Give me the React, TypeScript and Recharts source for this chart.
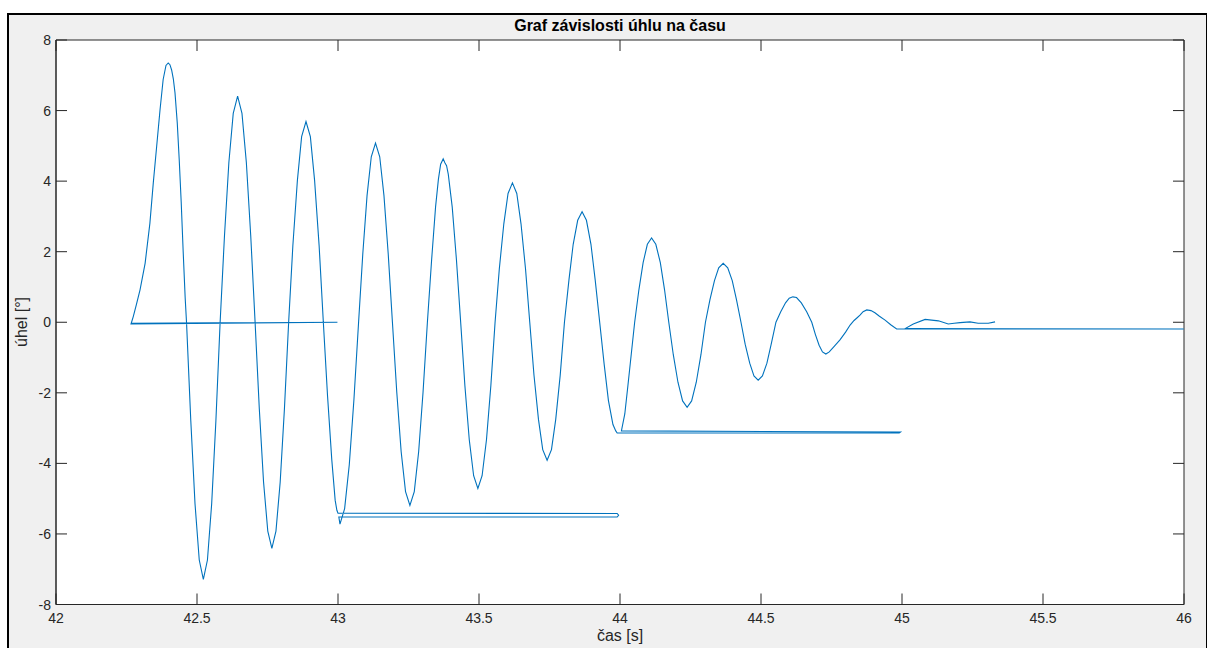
import React from "react";
import { LineChart, Line, XAxis, YAxis, CartesianGrid, ReferenceArea } from "recharts";

const title = "Graf závislosti úhlu na času";
const xLabel = "čas [s]";
const yLabel = "úhel [°]";

const xTicks = [42, 42.5, 43, 43.5, 44, 44.5, 45, 45.5, 46];
const yTicks = [-8, -6, -4, -2, 0, 2, 4, 6, 8];

// time [s] – samples in recorded order (timestamps wrap around each full second)
const time = [
  42.265, 42.998, 42.266,
  42.274, 42.285, 42.298, 42.316, 42.333, 42.345, 42.357, 42.369, 42.380, 42.390, 42.398, 42.404, 42.410, 42.416, 42.422, 42.430, 42.437, 42.444, 42.451, 42.458, 42.463,
  42.478, 42.493, 42.508, 42.5225, 42.537, 42.552, 42.567, 42.582,
  42.5975, 42.613, 42.6285, 42.644, 42.6595, 42.675, 42.6905, 42.706,
  42.721, 42.736, 42.751, 42.7655, 42.780, 42.795, 42.810, 42.825,
  42.840, 42.856, 42.871, 42.8865, 42.902, 42.917, 42.933, 42.948,
  42.963, 42.978, 42.990, 42.996, 43.0,
  43.99, 43.995, 43.99, 43.003, 43.007,
  43.0235, 43.040, 43.0565, 43.073,
  43.088, 43.103, 43.118, 43.133, 43.148, 43.163, 43.178, 43.193,
  43.2085, 43.224, 43.2395, 43.255, 43.2705, 43.286, 43.3015, 43.317,
  43.332, 43.346, 43.356, 43.364, 43.373, 43.379, 43.385, 43.391, 43.405, 43.420, 43.435,
  43.450, 43.4655, 43.481, 43.496, 43.511, 43.5265, 43.542, 43.557,
  43.572, 43.588, 43.603, 43.6185, 43.634, 43.649, 43.665, 43.680,
  43.695, 43.711, 43.726, 43.7415, 43.757, 43.772, 43.788, 43.803,
  43.819, 43.834, 43.850, 43.8655, 43.881, 43.897, 43.912, 43.928,
  43.944, 43.959, 43.975, 43.985, 43.99,
  44.99, 44.995, 44.005,
  44.017, 44.028, 44.040, 44.052,
  44.067, 44.082, 44.097, 44.112, 44.127, 44.143, 44.158, 44.173,
  44.189, 44.2055, 44.222, 44.238, 44.254, 44.2705, 44.287, 44.303,
  44.319, 44.335, 44.350, 44.366, 44.382, 44.398, 44.413, 44.429,
  44.444, 44.460, 44.475, 44.490, 44.505, 44.521, 44.536, 44.553,
  44.570, 44.587, 44.600, 44.613, 44.626, 44.643, 44.662, 44.680,
  44.693, 44.706, 44.718, 44.730, 44.742, 44.758, 44.780, 44.800, 44.816, 44.830, 44.840, 44.851, 44.862, 44.875, 44.890, 44.904, 44.920, 44.940, 44.960, 44.981,
  45.999, 45.011,
  45.040, 45.082, 45.105, 45.129, 45.164, 45.185, 45.206, 45.241, 45.270, 45.306, 45.330,
];

// angle [°]
const angle = [
  -0.03, 0.0, -0.05,
  0.16, 0.5, 0.92, 1.67, 2.81, 3.95, 4.99, 6.03, 6.88, 7.28, 7.35, 7.3, 7.15, 6.9, 6.5, 5.65, 4.6, 3.4, 2.0, 0.7, -0.03,
  -2.79, -5.15, -6.74, -7.29, -6.74, -5.15, -2.79, 0,
  2.46, 4.53, 5.92, 6.41, 5.92, 4.53, 2.46, 0,
  -2.46, -4.53, -5.92, -6.41, -5.92, -4.53, -2.46, 0,
  2.18, 4.02, 5.26, 5.69, 5.26, 4.02, 2.18, 0,
  -2.1, -3.9, -5.05, -5.33, -5.41,
  -5.42, -5.47, -5.52, -5.52, -5.72,
  -5.28, -4.04, -2.19, 0,
  1.95, 3.59, 4.69, 5.08, 4.69, 3.59, 1.95, 0,
  -1.99, -3.67, -4.8, -5.19, -4.8, -3.67, -1.99, 0,
  1.77, 3.27, 4.05, 4.48, 4.63, 4.52, 4.44, 4.2, 3.27, 1.77, 0,
  -1.8, -3.33, -4.35, -4.71, -4.35, -3.33, -1.8, 0,
  1.51, 2.79, 3.65, 3.95, 3.65, 2.79, 1.51, 0,
  -1.5, -2.76, -3.61, -3.91, -3.61, -2.76, -1.5, 0,
  1.2, 2.21, 2.89, 3.13, 2.89, 2.21, 1.2, 0,
  -1.2, -2.22, -2.9, -3.08, -3.14,
  -3.14, -3.11, -3.08,
  -2.6, -1.8, -0.9, 0,
  0.92, 1.69, 2.21, 2.39, 2.21, 1.69, 0.92, 0,
  -0.92, -1.7, -2.23, -2.41, -2.23, -1.7, -0.92, 0,
  0.64, 1.18, 1.54, 1.67, 1.54, 1.18, 0.64, 0,
  -0.63, -1.16, -1.52, -1.64, -1.52, -1.16, -0.63, 0,
  0.3, 0.55, 0.68, 0.72, 0.7, 0.55, 0.3, 0,
  -0.35, -0.65, -0.84, -0.9, -0.84, -0.7, -0.5, -0.28, -0.08, 0.05, 0.12, 0.2, 0.3, 0.35, 0.33, 0.27, 0.17, 0.06, -0.07, -0.19,
  -0.19, -0.18,
  -0.05, 0.08, 0.06, 0.04, -0.05, -0.03, -0.01, 0.01, -0.03, -0.03, 0.01,
];

const data = time.map((t, i) => ({ t, v: angle[i] }));

const FONT = "'Liberation Sans', Arial, Helvetica, sans-serif";
const AX = "#262626";
const TICK_LEN = 11;
const X_GAP = 8;
const Y_GAP = 5;
const CHART_W = 1207;
const CHART_H = 648;
const MARGIN = { top: 40, right: 23, bottom: 13.5, left: 6 };
const PLOT_TOP = MARGIN.top;
const PLOT_RIGHT = CHART_W - MARGIN.right;

const BottomTick = (props: any) => {
  const { x, y, payload } = props;
  const axisY = y - X_GAP;
  return (
    <g>
      <line x1={x} x2={x} y1={axisY} y2={axisY - TICK_LEN} stroke={AX} strokeWidth={1} />
      <line x1={x} x2={x} y1={PLOT_TOP} y2={PLOT_TOP + TICK_LEN} stroke={AX} strokeWidth={1} />
      <text x={x} y={y} dy={10} textAnchor="middle" fill={AX} fontSize={14} fontFamily={FONT}>
        {payload.value}
      </text>
    </g>
  );
};

const LeftTick = (props: any) => {
  const { x, y, payload } = props;
  const axisX = x + Y_GAP;
  return (
    <g>
      <line x1={axisX} x2={axisX + TICK_LEN} y1={y} y2={y} stroke={AX} strokeWidth={1} />
      <line x1={PLOT_RIGHT} x2={PLOT_RIGHT - TICK_LEN} y1={y} y2={y} stroke={AX} strokeWidth={1} />
      <text x={x} y={y} dy={5} textAnchor="end" fill={AX} fontSize={14} fontFamily={FONT}>
        {payload.value}
      </text>
    </g>
  );
};

export default function App() {
  return (
    <div
      style={{
        position: "fixed",
        left: 0,
        top: 0,
        width: CHART_W,
        height: CHART_H,
        overflow: "hidden",
        background: "#ffffff",
        fontFamily: FONT,
      }}
    >
      <div
        style={{
          position: "absolute",
          left: 7,
          top: 13,
          width: 1197,
          height: 700,
          border: "2px solid #000",
          background: "#f0f0f0",
        }}
      />
      <div style={{ position: "absolute", left: 0, top: 0 }}>
        <LineChart width={CHART_W} height={CHART_H} data={data} margin={MARGIN}>
          <CartesianGrid fill="#ffffff" horizontal={false} vertical={false} />
          <XAxis
            type="number"
            dataKey="t"
            domain={[42, 46]}
            ticks={xTicks}
            allowDataOverflow
            height={30}
            tickLine={false}
            tickSize={0}
            tickMargin={X_GAP}
            stroke={AX}
            tick={BottomTick}
            interval={0}
          />
          <YAxis
            type="number"
            domain={[-8, 8]}
            ticks={yTicks}
            allowDataOverflow
            width={50}
            tickLine={false}
            tickSize={0}
            tickMargin={Y_GAP}
            stroke={AX}
            tick={LeftTick}
            interval={0}
          />
          <Line
            type="linear"
            dataKey="v"
            stroke="#0072BD"
            strokeWidth={1.1}
            dot={false}
            activeDot={false}
            isAnimationActive={false}
          />
          <ReferenceArea
            x1={42}
            x2={46}
            y1={-8}
            y2={8}
            fill="none"
            stroke={AX}
            strokeWidth={1}
            strokeOpacity={1}
            ifOverflow="visible"
          />
        </LineChart>
      </div>
      <div
        style={{
          position: "absolute",
          left: 320,
          width: 600,
          top: 17,
          textAlign: "center",
          fontWeight: "bold",
          fontSize: 16,
          lineHeight: "18px",
          color: "#000",
        }}
      >
        {title}
      </div>
      <div
        style={{
          position: "absolute",
          left: 320,
          width: 600,
          top: 627,
          textAlign: "center",
          fontSize: 16,
          lineHeight: "18px",
          color: AX,
        }}
      >
        {xLabel}
      </div>
      <div
        style={{
          position: "absolute",
          left: 22,
          top: 322,
          width: 0,
          height: 0,
        }}
      >
        <div
          style={{
            position: "absolute",
            left: -100,
            top: -9,
            width: 200,
            textAlign: "center",
            fontSize: 16,
            lineHeight: "18px",
            color: AX,
            transform: "rotate(-90deg)",
            whiteSpace: "nowrap",
          }}
        >
          {yLabel}
        </div>
      </div>
    </div>
  );
}
